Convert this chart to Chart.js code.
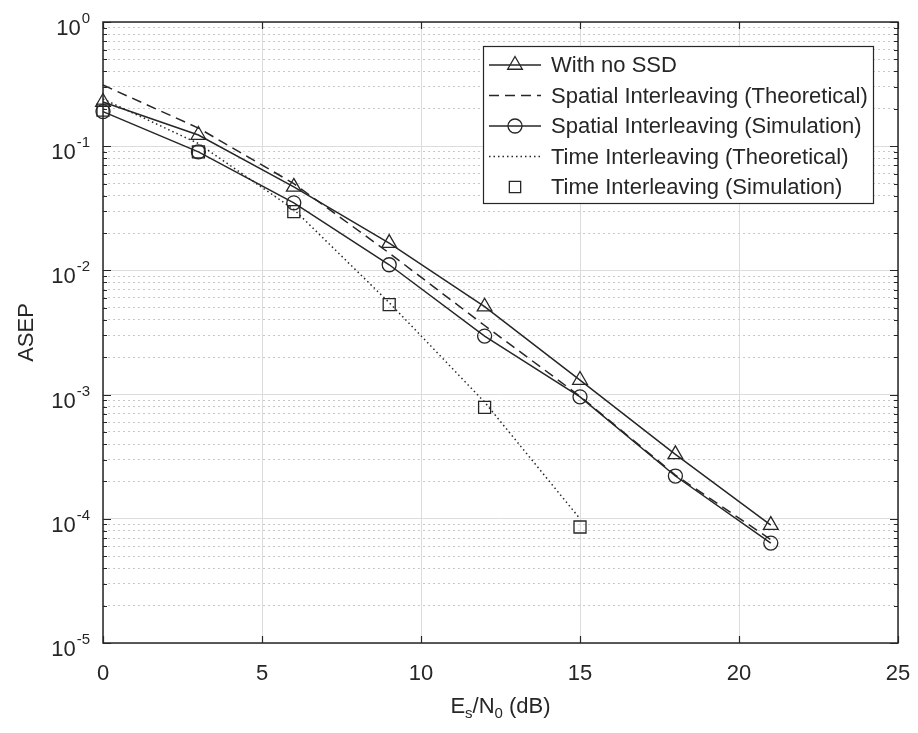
<!DOCTYPE html>
<html>
<head>
<meta charset="utf-8">
<script src="https://cdn.jsdelivr.net/npm/chart.js@4/dist/chart.umd.min.js"></script>
<style>
  html, body { margin: 0; padding: 0; background: #fff; }
  #wrap { width: 918px; height: 733px; }
</style>
</head>
<body>
<div id="wrap"><canvas id="c" width="918" height="733"></canvas></div>
<script>
// values (Es/N0 in dB -> ASEP)
const snr = [0, 3, 6, 9, 12, 15, 18, 21];
const noSsd = [0.227, 0.123, 0.047, 0.0166, 0.0051, 0.00131, 0.00033, 0.000089];
const spatialTheory = [0.311, 0.14, 0.050, 0.0138, 0.0036, 0.00097, 0.000225, 0.000068];
const spatialSim = [0.19, 0.090, 0.035, 0.0111, 0.00296, 0.00096, 0.000221, 0.0000638];
const snrTime = [0, 3, 6, 9, 12, 15];
const timeTheory = [0.24, 0.105, 0.031, 0.0055, 0.00087, 0.0001];
const timeSim = [0.195, 0.09, 0.0297, 0.0053, 0.00079, 0.0000859];
const xTicks = [0, 5, 10, 15, 20, 25];
const yDecades = [0, -1, -2, -3, -4, -5];
const legendLabels = [
  'With no SSD',
  'Spatial Interleaving (Theoretical)',
  'Spatial Interleaving (Simulation)',
  'Time Interleaving (Theoretical)',
  'Time Interleaving (Simulation)'
];

const INK = '#262626';
const FONT = '"Liberation Sans", Arial, Helvetica, sans-serif';
const pts = (xs, ys) => xs.map((x, i) => ({ x, y: ys[i] }));
const isDecade = v => Math.abs(Math.log10(v) - Math.round(Math.log10(v))) < 1e-9;

const base = { borderColor: INK, borderWidth: 1.5, pointBorderColor: INK, pointBackgroundColor: 'rgba(0,0,0,0)',
               pointBorderWidth: 1.3, fill: false, tension: 0, clip: false };

const datasets = [
  { ...base, label: legendLabels[0], data: pts(snr, noSsd), pointStyle: 'triangle', pointRadius: 8.5 },
  { ...base, label: legendLabels[1], data: pts(snr, spatialTheory), borderDash: [10, 6], pointRadius: 0 },
  { ...base, label: legendLabels[2], data: pts(snr, spatialSim), pointStyle: 'circle', pointRadius: 7 },
  { ...base, label: legendLabels[3], data: pts(snrTime, timeTheory), borderDash: [1.5, 3], pointRadius: 0 },
  { ...base, label: legendLabels[4], data: pts(snrTime, timeSim), showLine: false, pointStyle: 'rect', pointRadius: 8.5 }
];

function drawMarker(ctx, style, x, y, r) {
  Chart.helpers.drawPoint(ctx, { pointStyle: style, radius: r, rotation: 0, borderWidth: 1.3 }, x, y);
}

const matlabAxes = {
  id: 'matlabAxes',
  afterDraw(chart) {
    const { ctx, chartArea: ca, scales } = chart;
    const xs = scales.x, ys = scales.y;
    ctx.save();
    ctx.strokeStyle = INK;
    ctx.lineWidth = 1.2;
    ctx.setLineDash([]);

    // inward tick marks on all four sides
    ctx.beginPath();
    xTicks.forEach(v => {
      const px = Math.round(xs.getPixelForValue(v)) + 0.5;
      ctx.moveTo(px, ca.bottom); ctx.lineTo(px, ca.bottom - 7);
      ctx.moveTo(px, ca.top); ctx.lineTo(px, ca.top + 7);
    });
    ys.ticks.forEach(t => {
      const py = Math.round(ys.getPixelForValue(t.value)) + 0.5;
      const len = isDecade(t.value) ? 8 : 4;
      ctx.moveTo(ca.left, py); ctx.lineTo(ca.left + len, py);
      ctx.moveTo(ca.right, py); ctx.lineTo(ca.right - len, py);
    });
    ctx.stroke();

    // box
    ctx.lineWidth = 1.5;
    ctx.strokeRect(ca.left, ca.top, ca.right - ca.left, ca.bottom - ca.top);

    // tick labels
    ctx.fillStyle = INK;
    ctx.textBaseline = 'alphabetic';
    ctx.textAlign = 'center';
    ctx.font = '22px ' + FONT;
    xTicks.forEach(v => ctx.fillText(String(v), xs.getPixelForValue(v), ca.bottom + 37));

    yDecades.forEach(k => {
      const py = ys.getPixelForValue(Math.pow(10, k));
      const right = ca.left - 13;
      ctx.textAlign = 'right';
      ctx.font = '15px ' + FONT;
      const sup = String(k);
      ctx.fillText(sup, right, py + 1);
      const sw = ctx.measureText(sup).width;
      ctx.font = '22px ' + FONT;
      ctx.fillText('10', right - sw - 1, py + 13);
    });

    // x title: Es/N0 (dB)
    const parts = [['E', 22, 0], ['s', 15, 5], ['/N', 22, 0], ['0', 15, 5], [' (dB)', 22, 0]];
    let total = 0;
    parts.forEach(([t, s]) => { ctx.font = s + 'px ' + FONT; total += ctx.measureText(t).width; });
    let tx = (ca.left + ca.right) / 2 - total / 2;
    ctx.textAlign = 'left';
    parts.forEach(([t, s, dy]) => {
      ctx.font = s + 'px ' + FONT;
      ctx.fillText(t, tx, ca.bottom + 70 + dy);
      tx += ctx.measureText(t).width;
    });

    // y title
    ctx.save();
    ctx.translate(33, (ca.top + ca.bottom) / 2);
    ctx.rotate(-Math.PI / 2);
    ctx.textAlign = 'center';
    ctx.font = '22px ' + FONT;
    ctx.fillText('ASEP', 0, 0);
    ctx.restore();

    // legend
    const bx = ca.right - 415, by = ca.top + 24, bw = 390, bh = 157;
    ctx.fillStyle = '#fff';
    ctx.fillRect(bx, by, bw, bh);
    ctx.lineWidth = 1.2;
    ctx.strokeStyle = INK;
    ctx.strokeRect(bx + 0.5, by + 0.5, bw, bh);
    chart.data.datasets.forEach((ds, i) => {
      const ry = by + 19 + i * 30.5;
      ctx.strokeStyle = INK;
      ctx.fillStyle = 'rgba(0,0,0,0)';
      if (ds.showLine !== false) {
        ctx.lineWidth = 1.5;
        ctx.setLineDash(ds.borderDash || []);
        ctx.beginPath();
        ctx.moveTo(bx + 6, ry); ctx.lineTo(bx + 58, ry);
        ctx.stroke();
        ctx.setLineDash([]);
      }
      if (ds.pointRadius > 0) {
        ctx.lineWidth = 1.3;
        drawMarker(ctx, ds.pointStyle, bx + 32, ry, ds.pointStyle === 'rect' ? 8 : ds.pointRadius);
      }
      ctx.fillStyle = INK;
      ctx.textAlign = 'left';
      ctx.textBaseline = 'middle';
      ctx.font = '22px ' + FONT;
      ctx.fillText(ds.label, bx + 68, ry + 1);
      ctx.textBaseline = 'alphabetic';
    });
    ctx.restore();
  }
};

new Chart(document.getElementById('c'), {
  type: 'line',
  data: { datasets },
  options: {
    responsive: false,
    animation: false,
    layout: { padding: { left: 103, top: 22, right: 20, bottom: 90 } },
    plugins: { legend: { display: false }, tooltip: { enabled: false } },
    scales: {
      x: {
        type: 'linear', min: 0, max: 25,
        afterBuildTicks: s => { s.ticks = xTicks.map(v => ({ value: v })); },
        ticks: { display: false },
        grid: { color: '#dcdcdc', lineWidth: 1, drawTicks: false },
        border: { display: false }
      },
      y: {
        type: 'logarithmic', min: 1e-5, max: 1,
        afterBuildTicks: s => {
          const t = [];
          for (let k = -5; k <= 0; k++) {
            for (let m = 1; m <= 9; m++) {
              const v = m * Math.pow(10, k);
              if (v <= 1 + 1e-12) t.push({ value: v });
            }
          }
          s.ticks = t;
        },
        ticks: { display: false },
        grid: {
          drawTicks: false,
          lineWidth: 1,
          color: ctx => (ctx.tick && isDecade(ctx.tick.value)) ? '#dcdcdc' : '#c8c8c8'
        },
        border: {
          display: false,
          dash: ctx => (ctx.tick && isDecade(ctx.tick.value)) ? [] : [2, 3]
        }
      }
    }
  },
  plugins: [matlabAxes]
});
</script>
</body>
</html>
